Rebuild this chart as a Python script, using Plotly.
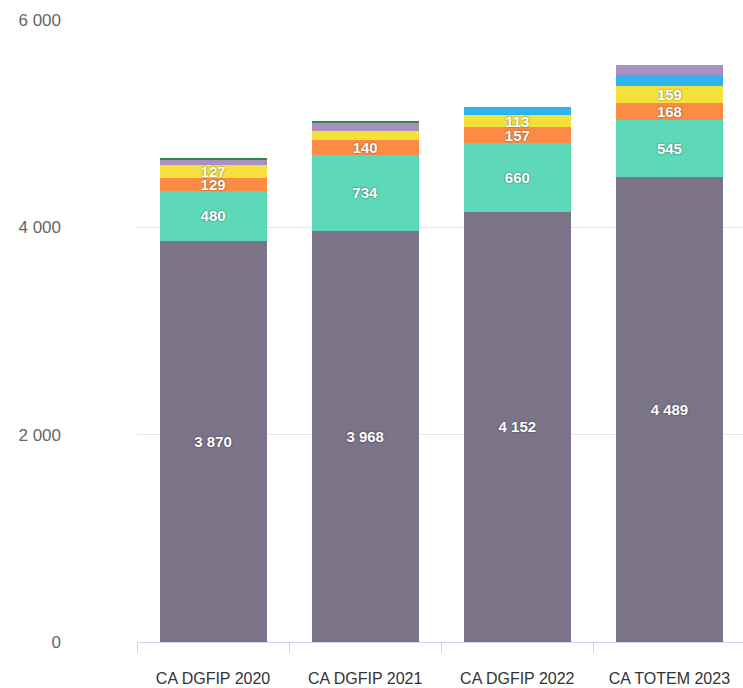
import plotly.graph_objects as go

# Categories on the x axis
categories = ["CA DGFIP 2020", "CA DGFIP 2021", "CA DGFIP 2022", "CA TOTEM 2023"]

# Stacked components, from the bottom of each bar to the top
base_part = [3870, 3968, 4152, 4489]
teal_part = [480, 734, 660, 545]
orange_part = [129, 140, 157, 168]
yellow_part = [127, 90, 113, 159]
blue_part = [0, 0, 75, 112]
lavender_part = [50, 70, 0, 97]
green_part = [15, 25, 0, 0]

# Which segments carry a value label
yellow_labelled = [True, False, True, True]

y_ticks = [0, 2000, 4000, 6000]


def fmt(v):
    return f"{v:,}".replace(",", " ")


series = [
    ("Composante 1", base_part, "#7b7388", [True] * 4),
    ("Composante 2", teal_part, "#5dd8b9", [True] * 4),
    ("Composante 3", orange_part, "#fd8b45", [True] * 4),
    ("Composante 4", yellow_part, "#f5e13b", yellow_labelled),
    ("Composante 5", blue_part, "#2db4ef", [False] * 4),
    ("Composante 6", lavender_part, "#a990c0", [False] * 4),
    ("Composante 7", green_part, "#2e8a4f", [False] * 4),
]

fig = go.Figure()
for name, values, color, show in series:
    fig.add_trace(go.Bar(
        name=name,
        x=categories,
        y=values,
        marker=dict(color=color, line=dict(width=0)),
        text=[fmt(v) if s and v > 0 else "" for v, s in zip(values, show)],
        textposition="inside",
        insidetextanchor="middle",
        textangle=0,
        constraintext="none",
        textfont=dict(family="Liberation Sans, Arial, sans-serif", size=15,
                      color="white", weight="bold",
                      shadow="0px 0px 2px rgba(0,0,0,0.55)"),
        hoverinfo="x+y+name",
    ))

fig.update_layout(
    barmode="stack",
    bargap=0.296,
    width=743,
    height=688,
    margin=dict(l=137, r=0, t=20, b=46),
    paper_bgcolor="white",
    plot_bgcolor="white",
    showlegend=False,
    separators=", ",
    font=dict(family="Liberation Sans, Arial, sans-serif"),
    xaxis=dict(
        type="category",
        range=[-0.5, 3.4836],
        showline=True,
        linecolor="#ccd6eb",
        linewidth=1,
        ticks="outside",
        tickson="boundaries",
        ticklen=10,
        tickcolor="#ccd6eb",
        showgrid=False,
        ticklabelstandoff=22,
        tickfont=dict(size=16, color="#333333"),
    ),
    yaxis=dict(
        range=[0, 6000],
        tickvals=y_ticks,
        ticktext=[fmt(v) for v in y_ticks],
        showgrid=True,
        gridcolor="#e6e6e6",
        gridwidth=1,
        zeroline=False,
        showline=False,
        ticklabelstandoff=75,
        tickfont=dict(size=17, color="#666666"),
    ),
)

fig.write_html("out.html")
